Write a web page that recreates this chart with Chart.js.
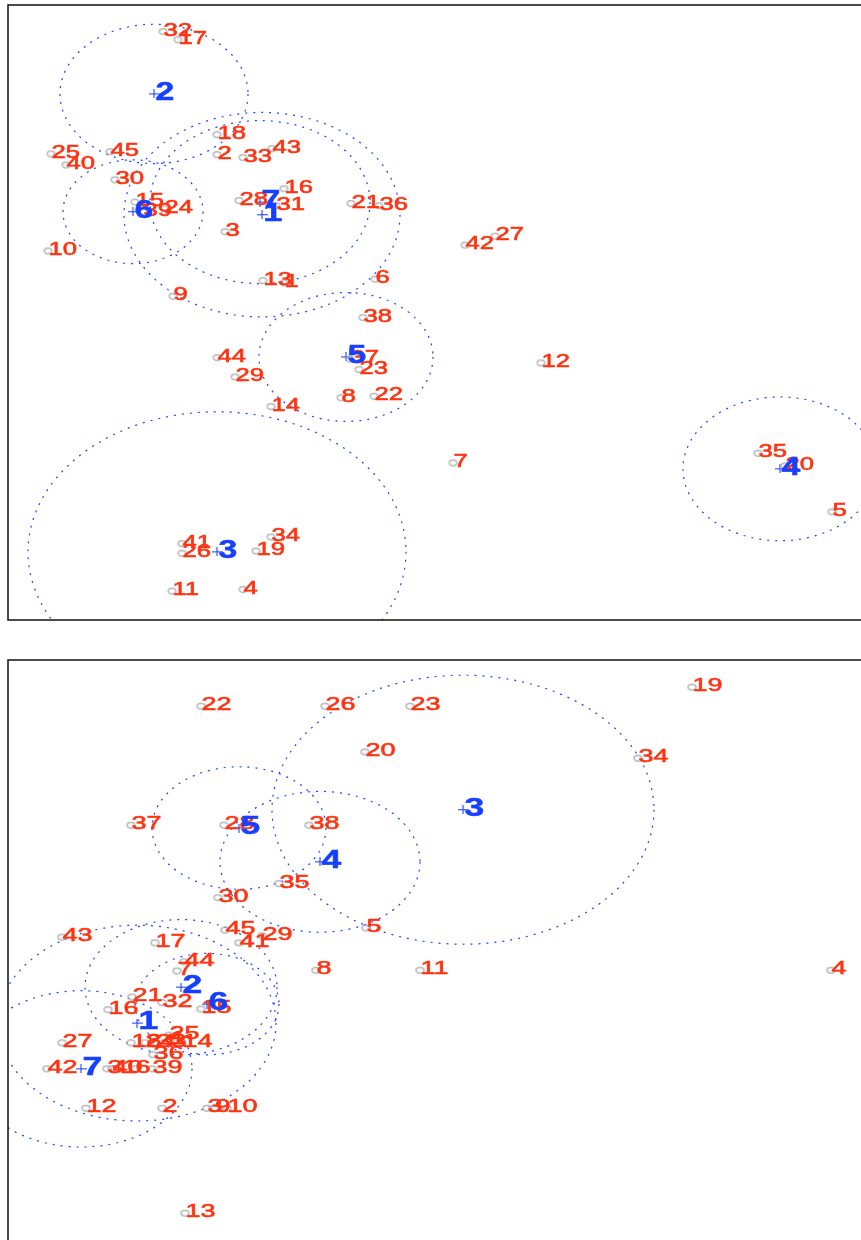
<!DOCTYPE html>
<html>
<head>
<meta charset="utf-8">
<script src="https://cdn.jsdelivr.net/npm/chart.js@4.4.1/dist/chart.umd.min.js"></script>
<style>
html,body{margin:0;padding:0;background:#fff;overflow:hidden;width:861px;height:1240px;}
canvas{position:absolute;left:0;}
#c1{top:0;width:900px;height:625px;}
#c2{top:655px;width:900px;height:625px;}
</style>
</head>
<body>
<canvas id="c1" width="900" height="625"></canvas>
<canvas id="c2" width="900" height="625"></canvas>
<script>
// ---------- data: upper panel ----------
const topIds = [1,2,3,4,5,6,7,8,9,10,11,12,13,14,15,16,17,18,19,20,21,22,23,24,25,26,27,28,29,30,31,32,33,34,35,36,37,38,39,40,41,42,43,44,45];
const topX = [276,209,217,235,824,367,445,333,165,40,164,533,255,263,127,276,170,209,248,777,343,366,351,156,43,174,487,231,227,107,268,155,235,263,750,371,342,355,135,58,174,457,264,209,102];
const topY = [455,628,524,41,146,460,212,300,437,498,39,347,458,288,564,582,783,655,93,208,562,302,338,555,629,90,518,566,328,594,559,794,624,112,225,559,352,408,551,614,103,506,636,354,632];
const topClusters = [1,2,3,4,5,6,7];
const topCenterX = [254,146,209,772,338,125,252];
const topCenterY = [547,710,92,204,355,551,564];
const topRadius = [138,94,189,97,87,70,110];
const topXRange = [0, 872];
const topYRange = [0, 830];

// ---------- data: lower panel ----------
const botIds = [1,2,3,4,5,6,7,8,9,10,11,12,13,14,15,16,17,18,19,20,21,22,23,24,25,26,27,28,29,30,31,32,33,34,35,36,37,38,39,40,41,42,43,44,45];
const botX = [162,154,199,823,358,127,169,308,207,219,412,78,177,174,193,100,147,123,684,357,124,193,402,137,161,317,54,216,254,210,99,154,148,630,271,145,123,301,144,104,231,39,54,176,217];
const botY = [284,187,187,383,443,243,382,383,187,187,383,187,38,280,328,327,422,280,785,693,345,758,758,280,291,758,280,589,432,486,243,337,280,684,506,263,589,589,243,243,422,243,430,395,440];
const botClusters = [1,2,3,4,5,6,7];
const botCenterX = [129,173,455,312,231,199,73];
const botCenterY = [308,359,611,537,585,335,243];
const botRadius = [139,96,191,100,87,72,111];
const botXRange = [0, 872];
const botYRange = [-49.7, 823.6];

// ---------- marks ----------
function ringMark(sx){
  const c = document.createElement('canvas');
  c.width = 11; c.height = 9;
  const g = c.getContext('2d');
  g.strokeStyle = '#aaaaaa'; g.lineWidth = 1.3;
  g.beginPath(); g.ellipse(5.5, 4.5, 2.8*sx, 2.8, 0, 0, 2*Math.PI); g.stroke();
  return c;
}
function plusMark(){
  const c = document.createElement('canvas');
  c.width = 11; c.height = 9;
  const g = c.getContext('2d');
  g.strokeStyle = '#1a3cff'; g.lineWidth = 1.1;
  g.beginPath(); g.moveTo(0, 4.5); g.lineTo(11, 4.5); g.moveTo(5.5, 0); g.lineTo(5.5, 9); g.stroke();
  return c;
}

const deco = {
  id: 'deco',
  beforeDatasetsDraw(chart, args, o) {
    const {ctx, chartArea: a, scales: {x, y}} = chart;
    ctx.save();
    ctx.beginPath(); ctx.rect(a.left, a.top, a.right - a.left, a.bottom - a.top); ctx.clip();
    ctx.strokeStyle = '#1f42ff'; ctx.lineWidth = 1.2; ctx.setLineDash([2, 6]);
    o.cx.forEach((v, i) => {
      const px = x.getPixelForValue(v), py = y.getPixelForValue(o.cy[i]);
      const rx = Math.abs(x.getPixelForValue(v + o.r[i]) - px);
      const ry = Math.abs(py - y.getPixelForValue(o.cy[i] + o.r[i]));
      ctx.beginPath(); ctx.ellipse(px, py, rx, ry, 0, 0, 2*Math.PI); ctx.stroke();
    });
    ctx.restore();
  },
  afterDatasetsDraw(chart, args, o) {
    const {ctx, chartArea: a} = chart;
    ctx.save();
    ctx.beginPath(); ctx.rect(a.left, a.top, a.right - a.left, a.bottom - a.top); ctx.clip();
    ctx.textAlign = 'left'; ctx.textBaseline = 'alphabetic';
    const m0 = chart.getDatasetMeta(0);
    ctx.fillStyle = '#ff3311'; ctx.strokeStyle = '#ff3311'; ctx.lineWidth = 0.6;
    ctx.font = '19px "Liberation Sans", Arial, Helvetica, sans-serif';
    m0.data.forEach((el, i) => {
      ctx.save(); ctx.translate(el.x + 0.5, el.y + 4); ctx.scale(o.stretch, 1);
      ctx.fillText(String(o.ids[i]), 0, 0); ctx.strokeText(String(o.ids[i]), 0, 0); ctx.restore();
    });
    const m1 = chart.getDatasetMeta(1);
    ctx.fillStyle = '#1640ff'; ctx.strokeStyle = '#1640ff'; ctx.lineWidth = 0.5;
    ctx.font = 'bold 25px "Liberation Sans", Arial, Helvetica, sans-serif';
    m1.data.forEach((el, i) => {
      ctx.save(); ctx.translate(el.x + 1.5, el.y + 6); ctx.scale(o.stretch, 1);
      ctx.fillText(String(o.cids[i]), 0, 0); ctx.strokeText(String(o.cids[i]), 0, 0); ctx.restore();
    });
    ctx.restore();
  },
  afterDraw(chart) {
    const {ctx, chartArea: a} = chart;
    ctx.save();
    ctx.strokeStyle = '#111'; ctx.lineWidth = 1.5;
    ctx.strokeRect(a.left, a.top, a.right - a.left, a.bottom - a.top);
    ctx.restore();
  }
};

function makeChart(id, ids, xs, ys, cids, cx, cy, r, xr, yr, stretch) {
  const pts = xs.map((v, i) => ({x: v, y: ys[i]}));
  const ctr = cx.map((v, i) => ({x: v, y: cy[i]}));
  return new Chart(document.getElementById(id), {
    type: 'scatter',
    data: {
      datasets: [
        {data: pts, pointStyle: ringMark(stretch), pointRadius: 4, pointHoverRadius: 4},
        {data: ctr, pointStyle: plusMark(), pointRadius: 4, pointHoverRadius: 4}
      ]
    },
    options: {
      responsive: false,
      devicePixelRatio: 1,
      animation: false,
      events: [],
      layout: {padding: {left: 8, top: 5, right: 20, bottom: 5}},
      scales: {
        x: {type: 'linear', display: false, min: xr[0], max: xr[1]},
        y: {type: 'linear', display: false, min: yr[0], max: yr[1]}
      },
      plugins: {
        legend: {display: false},
        tooltip: {enabled: false},
        deco: {ids: ids, cids: cids, cx: cx, cy: cy, r: r, stretch: stretch}
      }
    },
    plugins: [deco]
  });
}

makeChart('c1', topIds, topX, topY, topClusters, topCenterX, topCenterY, topRadius, topXRange, topYRange, 1.35);
makeChart('c2', botIds, botX, botY, botClusters, botCenterX, botCenterY, botRadius, botXRange, botYRange, 1.42);
</script>
</body>
</html>
